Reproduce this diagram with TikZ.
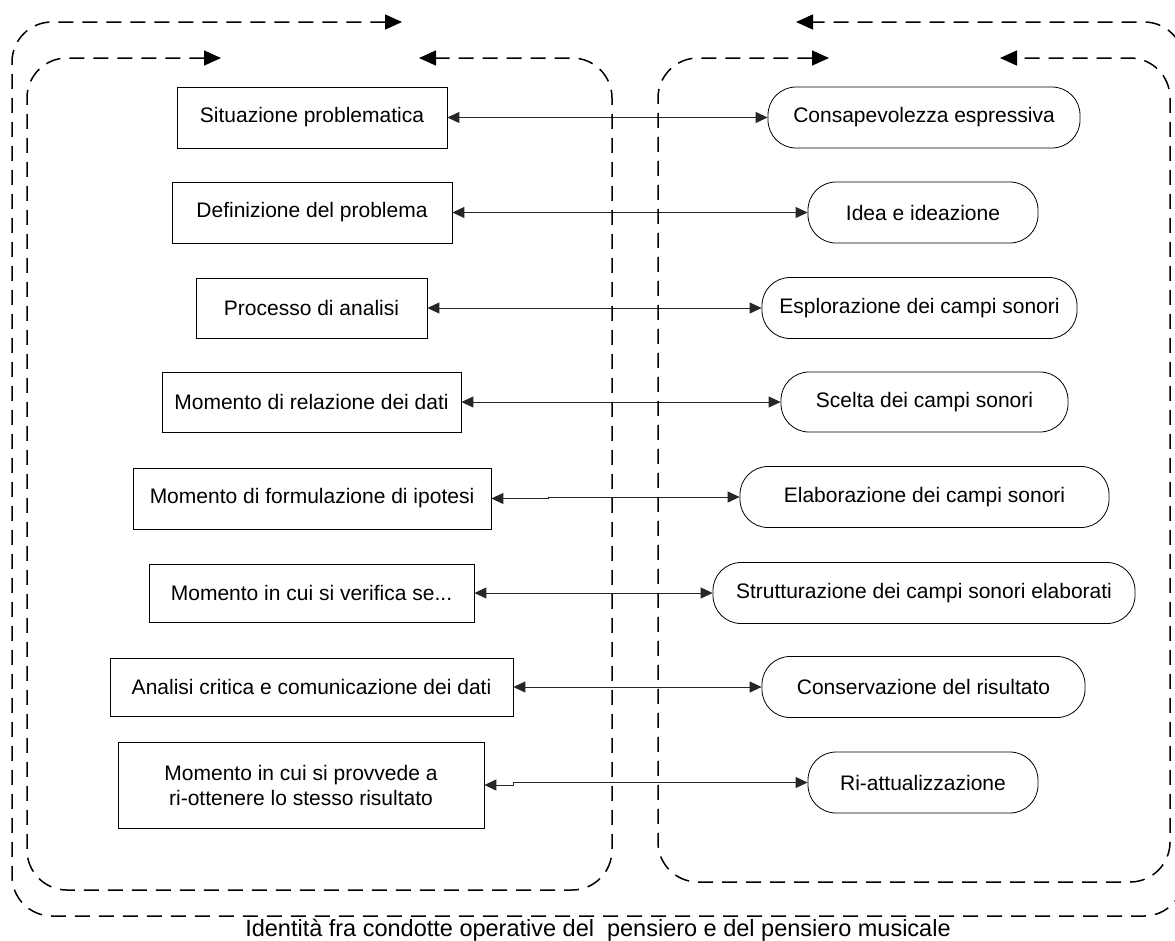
\documentclass[tikz,border=0pt]{standalone}
\usepackage{fontspec}
\setmainfont{Liberation Sans}
\usetikzlibrary{arrows.meta}
\begin{document}
\begin{tikzpicture}[x=1pt,y=-1pt,
  lbox/.style={draw=black, line width=0.8pt, rectangle, inner sep=0pt, align=center, font=\fontsize{21}{25}\selectfont},
  rbox/.style={draw=black, line width=0.8pt, rectangle, rounded corners=28pt, inner sep=0pt, align=center, font=\fontsize{21}{25}\selectfont},
  conn/.style={draw=black!85, line width=0.9pt, {Triangle[length=12pt,width=11pt]}-{Triangle[length=12pt,width=11pt]}},
  dloop/.style={draw=black, line width=1.5pt, dash pattern=on 15pt off 9pt, rounded corners=40pt, {Triangle[length=17pt,width=15pt]}-{Triangle[length=17pt,width=15pt]}}
]
\clip (0,0) rectangle (1175,940);
\useasboundingbox (0,0) rectangle (1175,940);

% left column
\node[lbox, minimum width=270pt, minimum height=61pt] (L1) at (312,117.5) {Situazione problematica};
\node[lbox, minimum width=280pt, minimum height=61pt] (L2) at (312,212.5) {Definizione del problema};
\node[lbox, minimum width=231pt, minimum height=60pt] (L3) at (311.5,308) {Processo di analisi};
\node[lbox, minimum width=299pt, minimum height=60pt] (L4) at (311.5,402) {Momento di relazione dei dati};
\node[lbox, minimum width=358pt, minimum height=61pt] (L5) at (312,498.5) {Momento di formulazione di ipotesi};
\node[lbox, minimum width=325pt, minimum height=58pt] (L6) at (311.5,593) {Momento in cui si verifica se...};
\node[lbox, minimum width=403pt, minimum height=58pt] (L7) at (311.5,687) {Analisi critica e comunicazione dei dati};
\node[lbox, minimum width=366pt, minimum height=86pt] (L8) at (301,785) {Momento in cui si provvede a\\ri-ottenere lo stesso risultato};

% right column
\node[rbox, minimum width=312pt, minimum height=61pt] (R1) at (924,117.5) {Consapevolezza espressiva};
\node[rbox, minimum width=230pt, minimum height=61pt] (R2) at (923,212.5) {Idea e ideazione};
\node[rbox, minimum width=315pt, minimum height=61pt] (R3) at (919.5,308) {Esplorazione dei campi sonori};
\node[rbox, minimum width=287pt, minimum height=60pt] (R4) at (924.5,402) {Scelta dei campi sonori};
\node[rbox, minimum width=369pt, minimum height=61pt] (R5) at (924.5,497) {Elaborazione dei campi sonori};
\node[rbox, minimum width=422pt, minimum height=61pt] (R6) at (924,593) {Strutturazione dei campi sonori elaborati};
\node[rbox, minimum width=323pt, minimum height=61pt] (R7) at (923.5,687) {Conservazione del risultato};
\node[rbox, minimum width=230pt, minimum height=61pt] (R8) at (923,782.5) {Ri-attualizzazione};

% connectors
\draw[conn] (L1.east) -- (R1.west);
\draw[conn] (L2.east) -- (R2.west);
\draw[conn] (L3.east) -- (R3.west);
\draw[conn] (L4.east) -- (R4.west);
\draw[conn] (L5.east) -- ++(57,0) |- (R5.west);
\draw[conn] (L6.east) -- (R6.west);
\draw[conn] (L7.east) -- (R7.west);
\draw[conn] (L8.east) -- ++(29,0) |- (R8.west);

% dashed loops
\coordinate (oA) at (402,22);
\coordinate (oB) at (796,22);
\coordinate (lA) at (221,58);
\coordinate (lB) at (419,58);
\coordinate (rA) at (829,58);
\coordinate (rB) at (1000,58);
\draw[dloop] (oA) -- (12,22) -- (12,916) -- (1184,916) -- (1184,22) -- (oB);
\draw[dloop] (lA) -- (27,58) -- (27,890) -- (612,890) -- (612,58) -- (lB);
\draw[dloop] (rA) -- (658,58) -- (658,882) -- (1170,882) -- (1170,58) -- (rB);

% caption
\node[anchor=base, inner sep=0pt, font=\fontsize{23.5}{28}\selectfont] (cap) at (598,936) {Identità fra condotte operative del\ \ pensiero e del pensiero musicale};
\end{tikzpicture}
\end{document}
